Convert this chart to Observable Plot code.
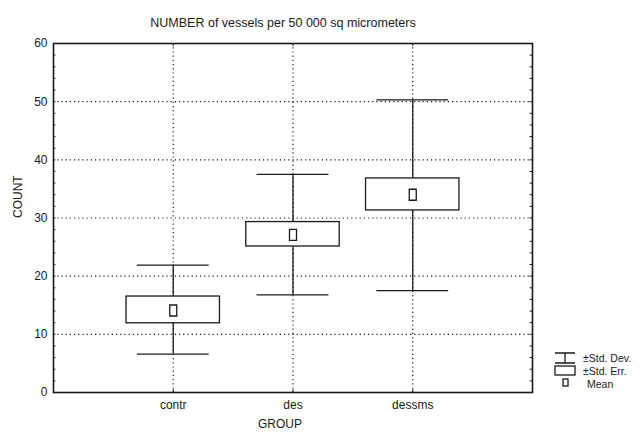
<!DOCTYPE html>
<html><head><meta charset="utf-8">
<script src="https://cdn.jsdelivr.net/npm/d3@7"></script>
<script src="https://cdn.jsdelivr.net/npm/@observablehq/plot@0.6"></script>
<style>body{margin:0;background:#fff} #chart{font-family:"Liberation Sans",Arial,sans-serif}</style>
</head><body><div id="chart"></div>
<script>
const groups = ["contr", "des", "dessms"];
const means = [14.1, 27.1, 34.0];
const seLow = [11.9, 25.1, 31.3];
const seHigh = [16.5, 29.3, 36.8];
const sdLow = [6.6, 16.8, 17.5];
const sdHigh = [21.9, 37.5, 50.3];
const yTicks = [0, 10, 20, 30, 40, 50, 60];
const minorTicks = d3.range(2, 60, 2);
const title = "NUMBER of vessels per 50 000 sq micrometers";
const xLabel = "GROUP";
const yLabel = "COUNT";
const legendItems = ["±Std. Dev.", "±Std. Err.", "Mean"];

const data = groups.map((g, i) => ({
  g, x: i + 1, mean: means[i], seLow: seLow[i], seHigh: seHigh[i], sdLow: sdLow[i], sdHigh: sdHigh[i]
}));

const ink = "#1a1a1a";
const boxHalf = 0.39, whiskHalf = 0.3;
const meanSymbol = {draw(ctx) { ctx.rect(-3.5, -5.5, 7, 11); }};

const plot = Plot.plot({
  width: 644, height: 433,
  marginLeft: 53, marginRight: 112, marginTop: 43, marginBottom: 41,
  style: {fontFamily: "Liberation Sans, Arial, sans-serif", fontSize: "12px", color: ink, background: "white"},
  x: {domain: [0, 4], ticks: data.map(d => d.x), tickFormat: i => groups[i - 1], tickSize: 0, tickPadding: 8, label: null},
  y: {domain: [0, 60], ticks: yTicks, tickSize: 0, tickPadding: 6, label: null},
  marks: [
    Plot.ruleY(yTicks.filter(t => t > 0 && t < 60), {y: d => d, stroke: ink, strokeWidth: 1.2, strokeDasharray: "1.2,3"}),
    Plot.ruleX(data, {x: "x", stroke: ink, strokeWidth: 1.2, strokeDasharray: "1.2,3"}),
    Plot.ruleY(minorTicks, {y: d => d, x1: 0, x2: 0.02, stroke: ink}),
    Plot.ruleY(minorTicks, {y: d => d, x1: 3.98, x2: 4, stroke: ink}),
    Plot.ruleX(data, {x: "x", y1: 0, y2: 0.5, stroke: ink}),
    Plot.ruleX(data, {x: "x", y1: 59.5, y2: 60, stroke: ink}),
    Plot.ruleX(data, {x: "x", y1: "sdLow", y2: "sdHigh", stroke: ink, strokeWidth: 1.3}),
    Plot.ruleY(data, {y: "sdHigh", x1: d => d.x - whiskHalf, x2: d => d.x + whiskHalf, stroke: ink, strokeWidth: 1.3}),
    Plot.ruleY(data, {y: "sdLow", x1: d => d.x - whiskHalf, x2: d => d.x + whiskHalf, stroke: ink, strokeWidth: 1.3}),
    Plot.rect(data, {x1: d => d.x - boxHalf, x2: d => d.x + boxHalf, y1: "seLow", y2: "seHigh", fill: "white", stroke: ink, strokeWidth: 1.3}),
    Plot.dot(data, {x: "x", y: "mean", symbol: meanSymbol, r: 4, fill: "white", stroke: ink, strokeWidth: 1.3}),
    Plot.frame({stroke: ink, strokeWidth: 1.6}),
    Plot.text([title], {text: d => d, frameAnchor: "top", dx: -10, dy: -25, fontSize: 12.5}),
    Plot.text([xLabel], {text: d => d, frameAnchor: "bottom", dx: -13, dy: 35, fontSize: 12}),
    Plot.text([yLabel], {text: d => d, frameAnchor: "left", dx: -35, rotate: -90, fontSize: 12})
  ]
});
document.getElementById("chart").appendChild(plot);

// Legend
const svg = d3.select(plot);
const lg = svg.append("g").attr("stroke", ink).attr("stroke-width", 1.3).attr("fill", "none");
lg.append("path").attr("d", "M555,353H575M565,353V363M555,363H575");
lg.append("rect").attr("x", 555).attr("y", 366).attr("width", 20).attr("height", 9).attr("fill", "white");
lg.append("rect").attr("x", 563).attr("y", 379).attr("width", 5).attr("height", 7).attr("fill", "white");
const lt = svg.append("g").attr("fill", ink).attr("font-size", 10.5)
  .attr("font-family", "Liberation Sans, Arial, sans-serif").attr("text-anchor", "start");
[[583, 358], [583, 371], [587, 384]].forEach(([x, y], i) => {
  lt.append("text").attr("x", x).attr("y", y).attr("dy", "0.35em").attr("text-anchor", "start").text(legendItems[i]);
});
</script>
</body></html>
